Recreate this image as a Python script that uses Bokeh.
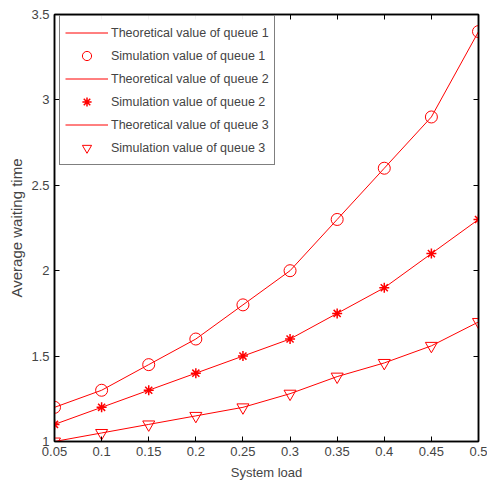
from bokeh.plotting import figure
from bokeh.models import LinearAxis, FixedTicker, Range1d, Legend, LegendItem
from bokeh.embed import file_html
from bokeh.resources import INLINE

load = [0.05, 0.1, 0.15, 0.2, 0.25, 0.3, 0.35, 0.4, 0.45, 0.5]
queue1 = [1.2, 1.3, 1.45, 1.6, 1.8, 2.0, 2.3, 2.6, 2.9, 3.4]
queue2 = [1.1, 1.2, 1.3, 1.4, 1.5, 1.6, 1.75, 1.9, 2.1, 2.3]
queue3 = [1.0, 1.05, 1.1, 1.15, 1.2, 1.28, 1.38, 1.46, 1.56, 1.7]
x_ticks = [0.05, 0.1, 0.15, 0.2, 0.25, 0.3, 0.35, 0.4, 0.45, 0.5]
x_tick_labels = ["0.05", "0.1", "0.15", "0.2", "0.25", "0.3", "0.35", "0.4", "0.45", "0.5"]
y_ticks = [1, 1.5, 2, 2.5, 3, 3.5]
y_tick_labels = ["1", "1.5", "2", "2.5", "3", "3.5"]
labels = ["Theoretical value of queue 1", "Simulation value of queue 1",
          "Theoretical value of queue 2", "Simulation value of queue 2",
          "Theoretical value of queue 3", "Simulation value of queue 3"]

FONT = "Liberation Sans"
RED = "#ff0000"

p = figure(width=487, height=489, output_backend="svg", toolbar_location=None,
           x_range=Range1d(0.05, 0.5), y_range=Range1d(1, 3.5),
           min_border_left=54, min_border_right=9, min_border_top=14, min_border_bottom=48,
           x_axis_label="System load", y_axis_label="Average waiting time")
p.background_fill_color = "white"
p.border_fill_color = "white"
p.grid.visible = False
p.outline_line_color = "black"
p.outline_line_width = 1.5

for ax, ticks, tl in ((p.xaxis[0], x_ticks, x_tick_labels), (p.yaxis[0], y_ticks, y_tick_labels)):
    ax.ticker = FixedTicker(ticks=ticks)
    ax.major_label_overrides = dict(zip(ticks, tl))
    ax.major_tick_in = 5
    ax.major_tick_out = 0
    ax.minor_tick_line_color = None
    ax.axis_line_width = 1.5
    ax.major_label_text_font = FONT
    ax.major_label_text_font_size = "13px"
    ax.axis_label_text_font = FONT
    ax.axis_label_text_font_style = "normal"
    ax.major_label_standoff = 5
p.xaxis[0].axis_label_text_font_size = "13px"
p.xaxis[0].axis_label_standoff = 6
p.yaxis[0].axis_label_text_font_size = "15px"
p.yaxis[0].axis_label_standoff = 3

for loc, ticks in (("above", x_ticks), ("right", y_ticks)):
    ax = LinearAxis(ticker=FixedTicker(ticks=ticks), major_tick_in=5, major_tick_out=0,
                    minor_tick_line_color=None, major_label_overrides={t: "" for t in ticks},
                    major_label_standoff=0, axis_line_width=1.5)
    p.add_layout(ax, loc)

items = []
for ys, marker, lab_t, lab_s in ((queue1, "circle", labels[0], labels[1]),
                                 (queue2, "asterisk", labels[2], labels[3]),
                                 (queue3, "inverted_triangle", labels[4], labels[5])):
    r_line = p.line(load, ys, line_color=RED, line_width=1)
    size = 10 if marker == "asterisk" else 12
    lw = 1.5 if marker == "asterisk" else 1
    r_sc = p.scatter(load, ys, marker=marker, size=size, line_color=RED, fill_color=None, line_width=lw)
    items.append(LegendItem(label=lab_t, renderers=[r_line]))
    items.append(LegendItem(label=lab_s, renderers=[r_sc]))

frame_h = 489 - 14 - 48
legend_h = 2 * 5 + 6 * 23
legend = Legend(items=items, location=(5, frame_h - 3 - legend_h), margin=0, padding=5, spacing=0,
                label_text_font=FONT, label_text_font_size="12.5px", label_height=23,
                glyph_height=23, glyph_width=43, label_standoff=3,
                border_line_color="black", border_line_width=1.5)
p.add_layout(legend)

open("out.html", "w").write(file_html(p, INLINE))
